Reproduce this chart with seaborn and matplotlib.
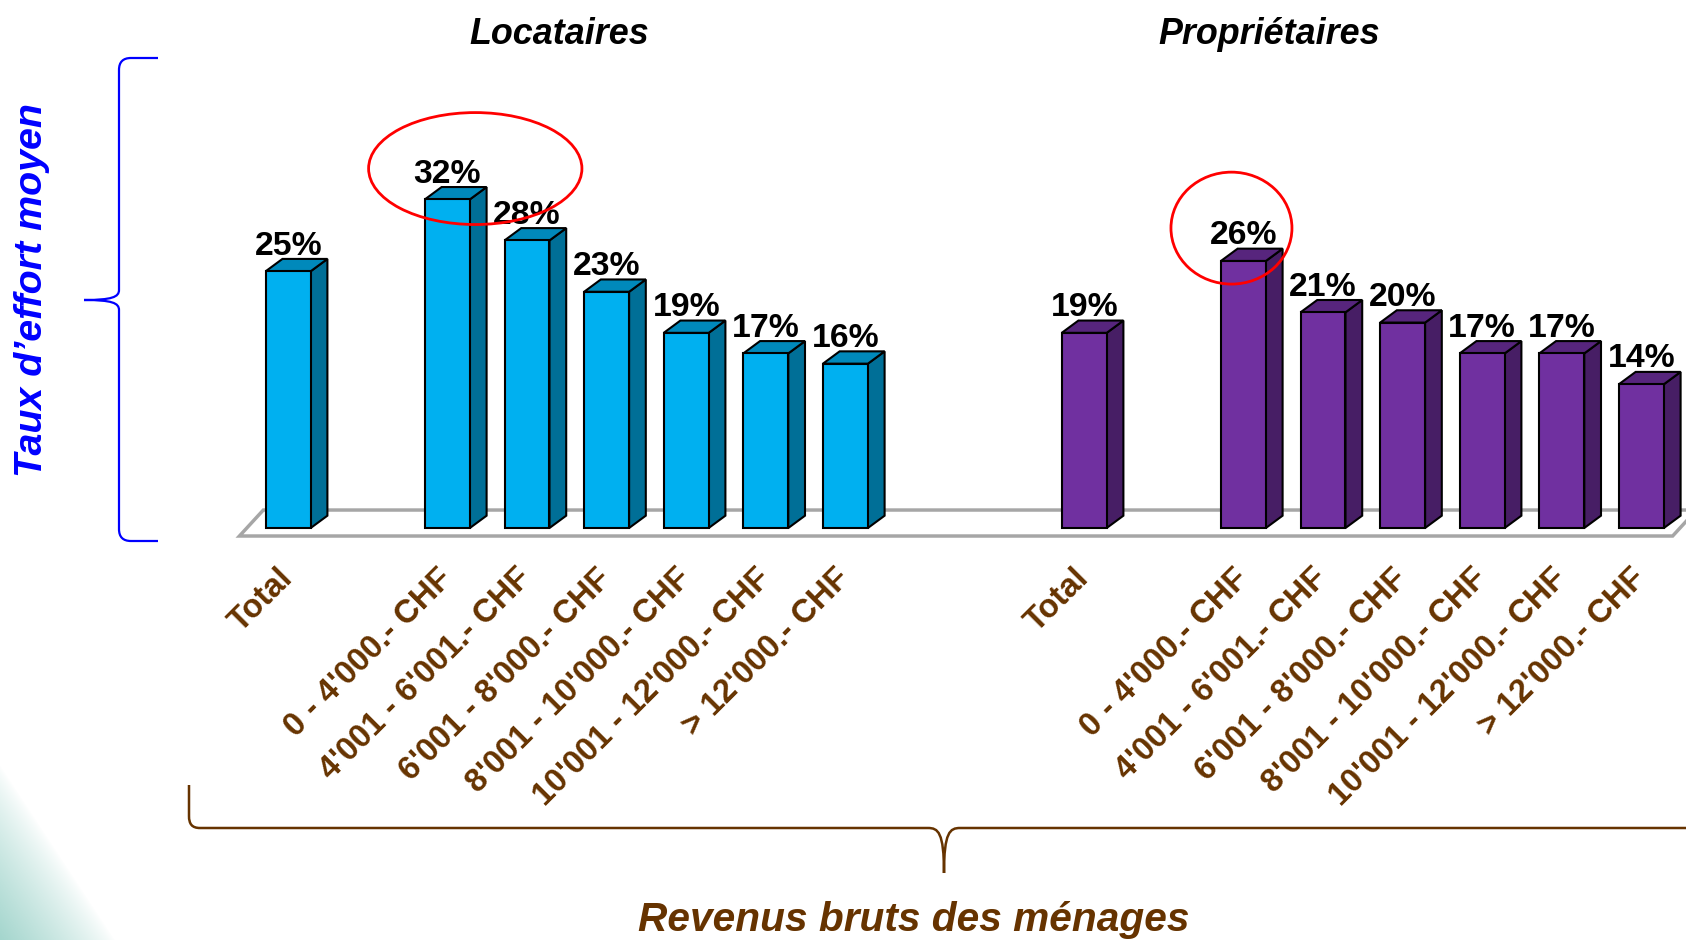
import numpy as np
import pandas as pd
import matplotlib
matplotlib.use('Agg')
import matplotlib.pyplot as plt
from matplotlib import font_manager
from matplotlib.patches import Polygon, Ellipse, PathPatch
from matplotlib.path import Path
import seaborn as sns

# données
groupes = ['Locataires', 'Propriétaires']
tranches = ['Total', "0 - 4'000.- CHF", "4'001 - 6'001.- CHF", "6'001 - 8'000.- CHF",
            "8'001 - 10'000.- CHF", "10'001 - 12'000.- CHF", "> 12'000.- CHF"]
taux_locataires = [25, 32, 28, 23, 19, 17, 16]
taux_proprietaires = [19, 26, 21, 20, 17, 17, 14]
couleurs = ['#00B0F0', '#7030A0']

W, H = 1686, 940
BRUN = '#663300'

sns.set_style('white')
installed = {f.name for f in font_manager.fontManager.ttflist}
if 'Liberation Sans Narrow' in installed:
    narrow, k = 'Liberation Sans Narrow', 1.0
else:
    narrow, k = 'Liberation Sans', 0.86
plt.rcParams['font.family'] = ['Liberation Sans', 'DejaVu Sans']
plt.rcParams['text.color'] = 'black'

rows = []
for g, (nom, vals) in enumerate(zip(groupes, [taux_locataires, taux_proprietaires])):
    start = g * (len(tranches) + 3)
    for i, (t, v) in enumerate(zip(tranches, vals)):
        rows.append({'groupe': nom, 'tranche': t,
                     'pos': start + (0 if i == 0 else i + 1), 'taux': v})
df = pd.DataFrame(rows)

fig = plt.figure(figsize=(W / 100, H / 100), dpi=100)
ax = fig.add_axes([0, 0, 1, 1])
ax.patch.set_alpha(0)

sns.barplot(data=df, x='pos', y='taux', hue='groupe', palette=couleurs, saturation=1,
            native_scale=True, dodge=False, width=0.565, errorbar=None,
            edgecolor='black', linewidth=1.5, legend=False, ax=ax, zorder=2)

# faces 3D
dx, dy = 0.21, 1.2
bars = list(ax.patches)
for b in bars:
    x0, w, h = b.get_x(), b.get_width(), b.get_height()
    fc = np.array(b.get_facecolor()[:3])
    ax.add_patch(Polygon([(x0 + w, 0), (x0 + w + dx, dy), (x0 + w + dx, h + dy), (x0 + w, h)],
                         closed=True, fc=fc * 0.63, ec='black', lw=1.5, zorder=1.9))
    ax.add_patch(Polygon([(x0, h), (x0 + dx, h + dy), (x0 + w + dx, h + dy), (x0 + w, h)],
                         closed=True, fc=fc * 0.78, ec='black', lw=1.5, zorder=1.9))

# sol
left = min(b.get_x() for b in bars) - 0.33
right = max(b.get_x() + b.get_width() for b in bars) + 0.11
ax.add_patch(Polygon([(left, -0.78), (left + 0.30, 1.75), (right + 0.30, 1.75), (right, -0.78)],
                     closed=True, fc='white', ec='#A6A6A6', lw=2.5, zorder=1))

for c in ax.containers:
    ax.bar_label(c, labels=[f'{int(v)}%' for v in c.datavalues], padding=7,
                 fontsize=27 * 0.9, fontweight='bold', family=narrow, color='black')

# cercles rouges autour des maxima
halo = [(0.35, 3.0, 2.68), (-0.15, 3.2, 1.52)]
for nom, (ox, oy, ew) in zip(groupes, halo):
    sub = df[df['groupe'] == nom]
    top = sub.loc[sub['taux'].idxmax()]
    ax.add_patch(Ellipse((top['pos'] + ox, top['taux'] + oy), ew, 10.9,
                         fill=False, ec='#FF0000', lw=2, zorder=4))

ax.set_xticks(df['pos'])
ax.set_xticklabels(df['tranche'])
ax.spines['bottom'].set_position(('data', 0))
for s in ax.spines.values():
    s.set_visible(False)
ax.tick_params(axis='x', length=0, pad=33, labelsize=23.5, labelcolor=BRUN)
plt.setp(ax.get_xticklabels(), rotation=45, ha='right', va='center',
         rotation_mode='anchor', fontweight='bold')
ax.set_yticks([])
ax.set_xlabel('')
ax.set_ylabel('')
ax.set_xlim(-288.2 / 79.6, (W - 288.2) / 79.6)
ax.set_ylim(-(H - 528) / 10.27, 528 / 10.27)

# décor en coordonnées pixels
deco = fig.add_axes([0, 0, 1, 1], zorder=5)
deco.patch.set_alpha(0)
gx, gy = np.meshgrid(np.arange(0, 200), np.arange(700, 940))
u = gx / 115 + (940 - gy) / 175
img = np.zeros(gx.shape + (4,))
img[..., :3] = (0.58, 0.81, 0.77)
img[..., 3] = 0.85 * np.clip(1 - u, 0, 1) ** 0.8
deco.imshow(img, extent=(0, 200, 940, 700), origin='upper', aspect='auto', zorder=0)

M, L, C = Path.MOVETO, Path.LINETO, Path.CURVE4
blue = [(158, 58), (131, 58), (123, 58), (119, 62), (119, 70), (119, 290),
        (119, 297), (112, 300), (84, 300), (112, 300), (119, 303), (119, 310),
        (119, 529), (119, 537), (123, 541), (131, 541), (158, 541)]
blue_codes = [M, L, C, C, C, L, C, C, C, C, C, C, L, C, C, C, L]
deco.add_patch(PathPatch(Path(blue, blue_codes), fill=False, ec='#0000FF', lw=1.6))
brown = [(189, 785), (189, 816), (189, 824), (192, 828), (200, 828), (928, 828),
         (938, 828), (944, 832), (944, 873), (944, 832), (950, 828), (960, 828), (1700, 828)]
brown_codes = [M, L, C, C, C, L, C, C, C, C, C, C, L]
deco.add_patch(PathPatch(Path(brown, brown_codes), fill=False, ec=BRUN, lw=1.8))
deco.set_xlim(0, W)
deco.set_ylim(H, 0)
deco.axis('off')

fig.text(559 / W, 1 - 44 / H, 'Locataires', ha='center', va='baseline', fontsize=30 * k,
         style='italic', weight='bold', family=narrow, color='black')
fig.text(1269 / W, 1 - 44 / H, 'Propriétaires', ha='center', va='baseline', fontsize=30 * k,
         style='italic', weight='bold', family=narrow, color='black')
fig.text(32 / W, 1 - 290 / H, 'Taux d’effort moyen', rotation=90, ha='center', va='center',
         fontsize=33 * k, style='italic', weight='bold', family=narrow, color='#0000FF')
fig.text(914 / W, 1 - 931 / H, 'Revenus bruts des ménages', ha='center', va='baseline',
         fontsize=34 * k, style='italic', weight='bold', family=narrow, color=BRUN)

fig.savefig('out.png', dpi=100, facecolor='white')
